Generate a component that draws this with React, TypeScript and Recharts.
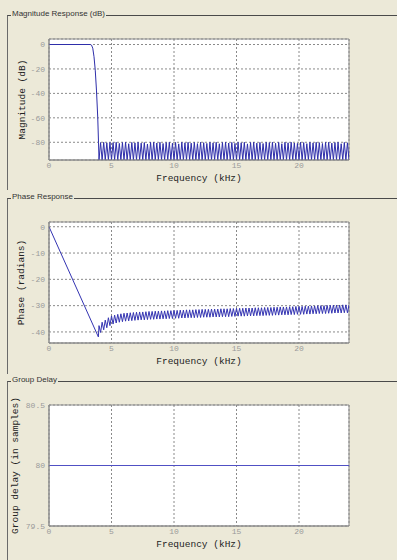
import { CartesianGrid, Line, LineChart, XAxis, YAxis } from "recharts";

// frequency axis (kHz), shared by all three plots
const freqTicks = [0, 5, 10, 15, 20];
const freqMax = 24;

// magnitude: passband + transition
const magPassFreq = [0, 3.3, 3.4, 3.5, 3.6, 3.7, 3.8, 3.9, 3.96];
const magPassDb = [0, 0, -0.5, -3, -10, -21, -38, -60, -80];

// stopband grid: nulls / lobe peaks alternating
const stopFreq = [
  4, 4.125, 4.25, 4.375, 4.5, 4.625, 4.75, 4.875,
  5, 5.125, 5.25, 5.375, 5.5, 5.625, 5.75, 5.875,
  6, 6.125, 6.25, 6.375, 6.5, 6.625, 6.75, 6.875,
  7, 7.125, 7.25, 7.375, 7.5, 7.625, 7.75, 7.875,
  8, 8.125, 8.25, 8.375, 8.5, 8.625, 8.75, 8.875,
  9, 9.125, 9.25, 9.375, 9.5, 9.625, 9.75, 9.875,
  10, 10.125, 10.25, 10.375, 10.5, 10.625, 10.75, 10.875,
  11, 11.125, 11.25, 11.375, 11.5, 11.625, 11.75, 11.875,
  12, 12.125, 12.25, 12.375, 12.5, 12.625, 12.75, 12.875,
  13, 13.125, 13.25, 13.375, 13.5, 13.625, 13.75, 13.875,
  14, 14.125, 14.25, 14.375, 14.5, 14.625, 14.75, 14.875,
  15, 15.125, 15.25, 15.375, 15.5, 15.625, 15.75, 15.875,
  16, 16.125, 16.25, 16.375, 16.5, 16.625, 16.75, 16.875,
  17, 17.125, 17.25, 17.375, 17.5, 17.625, 17.75, 17.875,
  18, 18.125, 18.25, 18.375, 18.5, 18.625, 18.75, 18.875,
  19, 19.125, 19.25, 19.375, 19.5, 19.625, 19.75, 19.875,
  20, 20.125, 20.25, 20.375, 20.5, 20.625, 20.75, 20.875,
  21, 21.125, 21.25, 21.375, 21.5, 21.625, 21.75, 21.875,
  22, 22.125, 22.25, 22.375, 22.5, 22.625, 22.75, 22.875,
  23, 23.125, 23.25, 23.375, 23.5, 23.625, 23.75, 23.875,
  24,
];

const magStopDb = [
  -94.5, -80.2, -94.5, -80.0, -94.5, -80.4, -94.5, -80.1,
  -94.5, -80.3, -94.5, -80.0, -94.5, -80.9, -94.5, -80.2,
  -94.5, -80.0, -94.5, -81.2, -94.5, -80.1, -94.5, -80.5,
  -94.5, -80.0, -94.5, -80.7, -94.5, -80.2, -94.5, -81.4,
  -94.5, -80.1, -94.5, -80.0, -94.5, -80.6, -94.5, -80.0,
  -94.5, -81.0, -94.5, -80.2, -94.5, -80.0, -94.5, -80.8,
  -94.5, -80.1, -94.5, -81.3, -94.5, -80.0, -94.5, -80.4,
  -94.5, -80.0, -94.5, -80.7, -94.5, -80.1, -94.5, -81.1,
  -94.5, -80.0, -94.5, -80.3, -94.5, -80.9, -94.5, -80.0,
  -94.5, -80.5, -94.5, -80.0, -94.5, -81.2, -94.5, -80.2,
  -94.5, -80.0, -94.5, -80.6, -94.5, -80.1, -94.5, -80.9,
  -94.5, -80.0, -94.5, -80.4, -94.5, -80.0, -94.5, -81.3,
  -94.5, -80.2, -94.5, -80.0, -94.5, -80.7, -94.5, -80.1,
  -94.5, -81.0, -94.5, -80.0, -94.5, -80.3, -94.5, -80.0,
  -94.5, -80.8, -94.5, -80.1, -94.5, -81.2, -94.5, -80.0,
  -94.5, -80.4, -94.5, -80.0, -94.5, -80.6, -94.5, -80.9,
  -94.5, -80.0, -94.5, -80.2, -94.5, -81.1, -94.5, -80.0,
  -94.5, -80.5, -94.5, -80.0, -94.5, -80.3, -94.5, -81.0,
  -94.5, -80.1, -94.5, -80.0, -94.5, -80.7, -94.5, -80.2,
  -94.5, -80.0, -94.5, -81.2, -94.5, -80.1, -94.5, -80.4,
  -94.5,
];

// phase: linear ramp through the passband, then the stopband sawtooth
const phasePassFreq = [0, 3.95];
const phasePassRad = [0, -41.9];

const phaseStopRad = [
  -37.6, -40.2, -36.3, -39.2, -35.5, -38.4, -34.6, -37.6,
  -33.9, -37.0, -33.6, -36.6, -33.3, -36.3, -33.1, -36.1,
  -32.9, -35.9, -32.8, -35.8, -32.7, -35.7, -32.6, -35.6,
  -32.5, -35.5, -32.4, -35.4, -32.4, -35.4, -32.3, -35.3,
  -32.2, -35.2, -32.2, -35.2, -32.1, -35.1, -32.1, -35.1,
  -32.0, -35.0, -32.0, -35.0, -31.9, -34.9, -31.9, -34.9,
  -31.8, -34.8, -31.8, -34.8, -31.7, -34.7, -31.7, -34.7,
  -31.6, -34.6, -31.6, -34.6, -31.6, -34.6, -31.5, -34.5,
  -31.5, -34.5, -31.4, -34.4, -31.4, -34.4, -31.4, -34.4,
  -31.3, -34.3, -31.3, -34.3, -31.3, -34.3, -31.2, -34.2,
  -31.2, -34.2, -31.2, -34.2, -31.1, -34.1, -31.1, -34.1,
  -31.0, -34.0, -31.0, -34.0, -31.0, -34.0, -30.9, -33.9,
  -30.9, -33.9, -30.9, -33.9, -30.8, -33.8, -30.8, -33.8,
  -30.8, -33.8, -30.7, -33.7, -30.7, -33.7, -30.7, -33.7,
  -30.6, -33.6, -30.6, -33.6, -30.5, -33.5, -30.5, -33.5,
  -30.5, -33.5, -30.4, -33.4, -30.4, -33.4, -30.3, -33.3,
  -30.3, -33.3, -30.3, -33.3, -30.2, -33.2, -30.2, -33.2,
  -30.1, -33.1, -30.1, -33.1, -30.0, -33.0, -30.0, -33.0,
  -30.0, -33.0, -29.9, -32.9, -29.9, -32.9, -29.8, -32.8,
  -29.8, -32.8, -29.8, -32.8, -29.7, -32.7, -29.7, -32.7,
  -29.7,
];

// group delay (samples)
const gdFreq = [0, 24];
const gdSamples = [80, 80];

const magTicks = [-80, -60, -40, -20, 0];
const phaseTicks = [-40, -35, -30, -25, -20, -15, -10, -5, 0];
const gdTicks = [79.5, 80, 80.5];

const zip = (xs: number[], ys: number[]) => xs.map((f, i) => ({ f, v: ys[i] }));

const magData = [...zip(magPassFreq, magPassDb), ...zip(stopFreq, magStopDb)];
const phaseData = [...zip(phasePassFreq, phasePassRad), ...zip(stopFreq, phaseStopRad)];
const gdData = zip(gdFreq, gdSamples);

const BG = "#ECE9D8";
const MONO = '"Liberation Mono", "DejaVu Sans Mono", monospace';
const SANS = '"Liberation Sans", Arial, sans-serif';
const BOX = "#8c8c8c";
const tickStyle = { fontSize: 8, fill: "#9a9a9a", fontFamily: MONO };

// frame of the plot box: edges of the plotting area
const frameRows = ({ offset }: any) => [offset.top, offset.top + offset.height];
const frameCols = ({ offset }: any) => [offset.left, offset.left + offset.width];

function GroupBox({ title, top, bottom }: { title: string; top: number; bottom: number }) {
  return (
    <>
      <div
        style={{
          position: "absolute",
          left: 7,
          top,
          width: 390,
          height: bottom - top,
          borderTop: "1px solid #4a4a4a",
          borderLeft: "1px solid #6a6a6a",
          boxSizing: "border-box",
        }}
      />
      <span
        style={{
          position: "absolute",
          left: 11,
          top: top - 6,
          padding: "0 1px",
          background: BG,
          fontFamily: SANS,
          fontSize: 8,
          lineHeight: "9px",
          color: "#333",
          whiteSpace: "nowrap",
        }}
      >
        {title}
      </span>
    </>
  );
}

type PlotProps = {
  top: number;
  data: { f: number; v: number }[];
  yDomain: [number, number];
  yTicks: number[];
  yLabel: string;
  yLabelDx: number;
  color: string;
};

function Plot({ top, data, yDomain, yTicks, yLabel, yLabelDx, color }: PlotProps) {
  return (
    <div style={{ position: "absolute", left: 0, top }}>
      <LineChart width={397} height={171} data={data} margin={{ top: 10, right: 48, bottom: 0, left: 8 }}>
        <CartesianGrid fill="#fff" stroke="#8a8a8a" strokeDasharray="2 2" />
        <CartesianGrid
          stroke={BOX}
          horizontalCoordinatesGenerator={frameRows}
          verticalCoordinatesGenerator={frameCols}
        />
        <XAxis
          dataKey="f"
          type="number"
          domain={[0, freqMax]}
          ticks={freqTicks}
          allowDataOverflow
          height={40}
          tickSize={0}
          tickMargin={2}
          tick={tickStyle}
          axisLine={{ stroke: BOX }}
          label={{ value: "Frequency (kHz)", position: "insideBottom", offset: 19, fill: "#222", fontSize: 9.5, fontFamily: MONO }}
        />
        <YAxis
          type="number"
          domain={yDomain}
          ticks={yTicks}
          allowDataOverflow
          width={41}
          tickSize={0}
          tickMargin={4}
          tick={tickStyle}
          axisLine={{ stroke: BOX }}
          label={{ value: yLabel, angle: -90, position: "center", dx: yLabelDx, fill: "#222", fontSize: 9.5, fontFamily: MONO }}
        />
        <Line type="linear" dataKey="v" stroke={color} strokeWidth={1} dot={false} isAnimationActive={false} />
      </LineChart>
    </div>
  );
}

export default function App() {
  return (
    <div style={{ position: "fixed", left: 0, top: 0, width: 397, height: 560, background: BG, overflow: "hidden" }}>
      <GroupBox title="Magnitude Response (dB)" top={15} bottom={190} />
      <GroupBox title="Phase Response" top={198} bottom={374} />
      <GroupBox title="Group Delay" top={381} bottom={560} />
      <Plot top={29} data={magData} yDomain={[-94.5, 4.5]} yTicks={magTicks} yLabel="Magnitude (dB)" yLabelDx={-7} color="#2e2eaa" />
      <Plot top={212} data={phaseData} yDomain={[-44.2, 1.8]} yTicks={phaseTicks} yLabel="Phase (radians)" yLabelDx={-8} color="#3434b2" />
      <Plot top={395} data={gdData} yDomain={[79.5, 80.5]} yTicks={gdTicks} yLabel="Group delay (in samples)" yLabelDx={-13.5} color="#5050c4" />
    </div>
  );
}
